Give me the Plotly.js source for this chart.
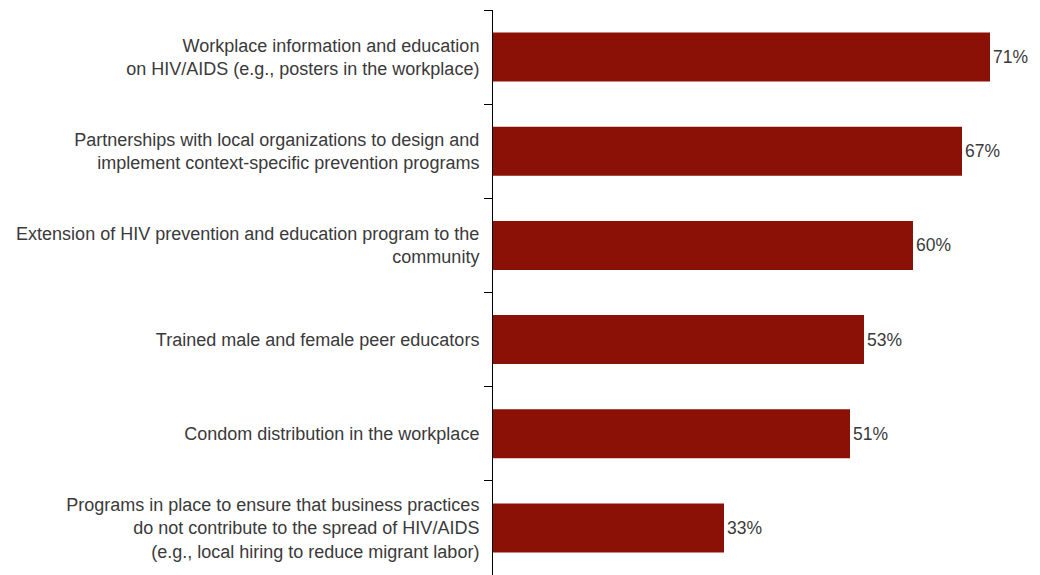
<!DOCTYPE html>
<html>
<head>
<meta charset="utf-8">
<script src="https://cdn.plot.ly/plotly-3.0.1.min.js"></script>
<style>html,body{margin:0;padding:0;background:#fff;}#chart{width:1040px;height:575px;}</style>
</head>
<body>
<div id="chart"></div>
<script>
const categories = [
  "Workplace information and education<br>on HIV/AIDS (e.g., posters in the workplace)",
  "Partnerships with local organizations to design and<br>implement context-specific prevention programs",
  "Extension of HIV prevention and education program to the<br>community",
  "Trained male and female peer educators",
  "Condom distribution in the workplace",
  "Programs in place to ensure that business practices<br>do not contribute to the spread of HIV/AIDS<br>(e.g., local hiring to reduce migrant labor)"
];
const values = [71, 67, 60, 53, 51, 33];
const valueLabels = values.map(v => v + "%");

const trace = {
  type: "bar",
  orientation: "h",
  y: categories,
  x: values,
  text: valueLabels,
  textposition: "outside",
  cliponaxis: false,
  textfont: {family: "Liberation Sans, Arial, sans-serif", size: 17.5, color: "#3a3a3a"},
  marker: {color: "#8B1107", line: {width: 0}},
  width: 0.52,
  hoverinfo: "none"
};

const layout = {
  width: 1040,
  height: 575,
  margin: {l: 493, r: 22, t: 10, b: 0},
  paper_bgcolor: "#ffffff",
  plot_bgcolor: "#ffffff",
  showlegend: false,
  font: {family: "Liberation Sans, Arial, sans-serif", size: 18, color: "#3a3a3a"},
  xaxis: {
    range: [0, 75],
    visible: false,
    showgrid: false,
    zeroline: false
  },
  yaxis: {
    type: "category",
    autorange: false,
    range: [5.5, -0.5],
    showline: true,
    linecolor: "#000000",
    linewidth: 1,
    ticks: "outside",
    tickson: "boundaries",
    ticklen: 8,
    tickcolor: "#000000",
    tickwidth: 1,
    showgrid: false,
    zeroline: false,
    ticklabelstandoff: 9,
    tickfont: {family: "Liberation Sans, Arial, sans-serif", size: 18, color: "#3a3a3a"}
  }
};

Plotly.newPlot("chart", [trace], layout, {displayModeBar: false, staticPlot: true});
</script>
</body>
</html>
